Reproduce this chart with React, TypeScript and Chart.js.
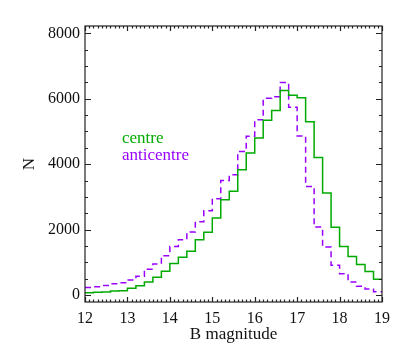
import React, { useEffect, useRef } from "react";
import { Chart, registerables } from "chart.js";

Chart.register(...registerables);

// Histogram bin edges (B magnitude), bin width 0.2
const binEdges = [
  12.0, 12.2, 12.4, 12.6, 12.8, 13.0, 13.2, 13.4, 13.6, 13.8,
  14.0, 14.2, 14.4, 14.6, 14.8, 15.0, 15.2, 15.4, 15.6, 15.8,
  16.0, 16.2, 16.4, 16.6, 16.8, 17.0, 17.2, 17.4, 17.6, 17.8,
  18.0, 18.2, 18.4, 18.6, 18.8, 19.0,
];

// Counts per bin
const centre = [
  65, 85, 90, 125, 130, 205, 280, 400, 540, 725,
  960, 1150, 1340, 1690, 1920, 2350, 2910, 3170, 3830, 4340,
  4800, 5340, 5640, 6250, 6110, 6030, 5300, 4200, 3115, 2070,
  1480, 1180, 935, 720, 480,
];

const anticentre = [
  230, 255, 290, 340, 370, 460, 570, 790, 950, 1200,
  1485, 1690, 1925, 2240, 2575, 2945, 3500, 3675, 4390, 4855,
  5355, 6015, 6065, 6500, 5740, 4865, 3320, 2075, 1465, 910,
  650, 400, 265, 185, 95,
];

const seriesNames = ["centre", "anticentre"];
const seriesColors = ["#00aa00", "#9900ff"];
const xTickValues = [12, 13, 14, 15, 16, 17, 18, 19];
const yTickValues = [0, 2000, 4000, 6000, 8000];
const xTitle = "B magnitude";
const yTitle = "N";

const FONT = "'Liberation Serif', 'Times New Roman', serif";

function toSteps(values: number[]) {
  const pts = values.map((v, i) => ({ x: binEdges[i], y: v }));
  pts.push({ x: binEdges[values.length], y: values[values.length - 1] });
  return pts;
}

const framePlugin = {
  id: "frame",
  afterDatasetsDraw(chart: any) {
    const { ctx, chartArea, scales } = chart;
    const { left, right, top, bottom } = chartArea;
    const xs = scales.x;
    const ys = scales.y;
    ctx.save();
    ctx.strokeStyle = "#222";
    ctx.lineWidth = 1.2;
    ctx.strokeRect(left, top, right - left, bottom - top);
    ctx.beginPath();
    // x ticks every 0.1, major every 1
    for (let i = 120; i <= 190; i++) {
      const v = i / 10;
      const px = Math.round(xs.getPixelForValue(v)) + 0.5;
      const len = i % 10 === 0 ? 5 : 2.5;
      ctx.moveTo(px, bottom);
      ctx.lineTo(px, bottom - len);
      ctx.moveTo(px, top);
      ctx.lineTo(px, top + len);
    }
    // y ticks every 500, major every 2000
    for (let v = 0; v <= 8000; v += 500) {
      const py = Math.round(ys.getPixelForValue(v)) + 0.5;
      const len = v % 2000 === 0 ? 6 : 3;
      ctx.moveTo(left, py);
      ctx.lineTo(left + len, py);
      ctx.moveTo(right, py);
      ctx.lineTo(right - len, py);
    }
    ctx.stroke();

    // text legend inside plot
    ctx.font = `17px ${FONT}`;
    ctx.textAlign = "left";
    ctx.textBaseline = "alphabetic";
    const lx = xs.getPixelForValue(12.87);
    const ly0 = ys.getPixelForValue(4660);
    seriesNames.forEach((name, i) => {
      ctx.fillStyle = seriesColors[i];
      ctx.fillText(name, lx, ly0 + i * 17.6);
    });
    ctx.restore();
  },
};

export default function App() {
  const ref = useRef<HTMLCanvasElement | null>(null);

  useEffect(() => {
    if (!ref.current) return;
    const chart = new Chart(ref.current, {
      type: "line",
      data: {
        datasets: [
          {
            label: seriesNames[0],
            data: toSteps(centre),
            borderColor: seriesColors[0],
            borderWidth: 1.5,
            stepped: true,
            pointRadius: 0,
            fill: false,
          },
          {
            label: seriesNames[1],
            data: toSteps(anticentre),
            borderColor: seriesColors[1],
            borderWidth: 1.5,
            borderDash: [6, 4],
            stepped: true,
            pointRadius: 0,
            fill: false,
          },
        ],
      },
      options: {
        animation: false,
        responsive: false,
        layout: { padding: { top: 26, right: 25, left: 0, bottom: 0 } },
        plugins: {
          legend: { display: false },
          tooltip: { enabled: false },
        },
        scales: {
          x: {
            type: "linear",
            min: 12,
            max: 19,
            grid: { display: false, drawTicks: false },
            border: { display: false },
            afterBuildTicks: (scale: any) => {
              scale.ticks = xTickValues.map((v) => ({ value: v }));
            },
            afterFit: (scale: any) => {
              scale.height = 54;
            },
            ticks: {
              autoSkip: false,
              maxRotation: 0,
              padding: 7,
              color: "#111",
              font: { family: FONT, size: 16 },
              callback: (v: any) => String(v),
            },
            title: {
              display: true,
              text: xTitle,
              color: "#111",
              font: { family: FONT, size: 17 },
              padding: { top: 0, bottom: 11 },
            },
          },
          y: {
            type: "linear",
            min: -215,
            max: 8225,
            grid: { display: false, drawTicks: false },
            border: { display: false },
            afterBuildTicks: (scale: any) => {
              scale.ticks = yTickValues.map((v) => ({ value: v }));
            },
            afterFit: (scale: any) => {
              scale.width = 85;
            },
            ticks: {
              autoSkip: false,
              padding: 5,
              color: "#111",
              font: { family: FONT, size: 16 },
              callback: (v: any) => String(v),
            },
            title: {
              display: true,
              text: yTitle,
              color: "#111",
              font: { family: FONT, size: 17 },
              padding: { top: 19, bottom: 0 },
            },
          },
        },
      },
      plugins: [framePlugin],
    } as any);
    return () => chart.destroy();
  }, []);

  return (
    <div style={{ position: "fixed", left: 0, top: 0, width: 407, height: 356, background: "#fff" }}>
      <canvas ref={ref} width={407} height={356} style={{ display: "block" }} />
    </div>
  );
}
